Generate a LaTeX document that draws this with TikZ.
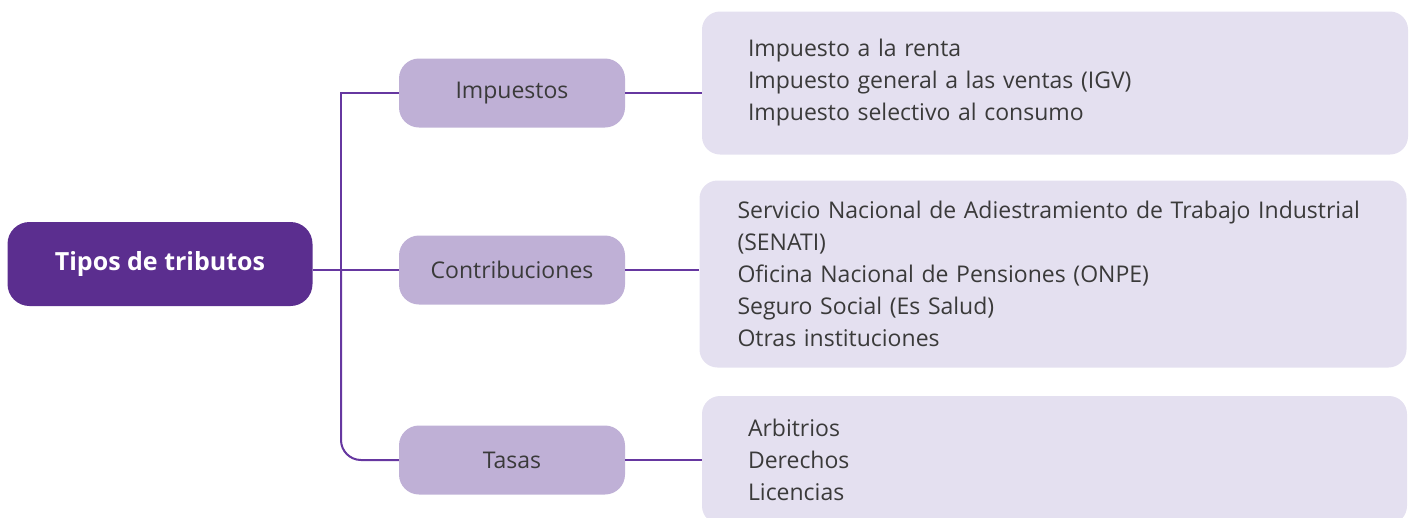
\documentclass[tikz,border=0pt]{standalone}
\usepackage{fontspec}
\setmainfont{Open Sans}
\usetikzlibrary{positioning}

\definecolor{moradoraiz}{HTML}{5B2E8F}
\definecolor{moradotipo}{HTML}{BFB0D6}
\definecolor{moradolista}{HTML}{E4E0F0}
\definecolor{moradolinea}{HTML}{6637A0}
\definecolor{textogris}{HTML}{3A3A3A}

\begin{document}
\begin{tikzpicture}[x=1pt, y=-1pt,
raiz/.style={fill=moradoraiz, rounded corners=22pt, minimum width=305pt,
  minimum height=84pt, text=white, font=\bfseries\fontsize{25}{30}\selectfont},
tipo/.style={fill=moradotipo, rounded corners=20pt, minimum width=226pt,
  minimum height=69pt, text=textogris, font=\fontsize{23}{28}\selectfont},
lista/.style={fill=moradolista, rounded corners=18pt, align=left,
  text=textogris, font=\fontsize{23}{32}\selectfont},
rama/.style={draw=moradolinea, line width=2pt}]
\useasboundingbox (0,0) rectangle (1409,517);

% nodos
\node [raiz] (tipos) at (160,264) {Tipos de tributos};
\node [tipo] (imp) at (512,93) {Impuestos};
\node [tipo] (con) at (512,270) {Contribuciones};
\node [tipo] (tas) at (512,460) {Tasas};

\node [lista, inner xsep=46pt, text width=614pt, minimum height=143pt] (limp) at (1055,83)
  {Impuesto a la renta\\Impuesto general a las ventas (IGV)\\Impuesto selectivo al consumo};
\node [lista, inner xsep=38pt, text width=631pt, minimum height=187pt] (lcon) at (1053,274)
  {Servicio Nacional de Adiestramiento de Trabajo Industrial\\(SENATI)\\Oficina Nacional de Pensiones (ONPE)\\Seguro Social (Es Salud)\\Otras instituciones};
\node [lista, inner xsep=46pt, text width=613pt, minimum height=128pt] (ltas) at (1054.5,460)
  {Arbitrios\\Derechos\\Licencias};

% ramas
\coordinate (tronco) at (341,93);
\draw [rama] (tipos.east |- con.west) -- (con.west);
\draw [rama] (imp.west) -- (tronco) -- (tronco |- con.west);
\draw [rama, rounded corners=20pt] (tronco |- con.west) -- (tronco |- tas.west) -- (tas.west);
\draw [rama] (imp.east) -- (imp.east -| limp.west);
\draw [rama] (con.east) -- (con.east -| lcon.west);
\draw [rama] (tas.east) -- (tas.east -| ltas.west);
\end{tikzpicture}
\end{document}
